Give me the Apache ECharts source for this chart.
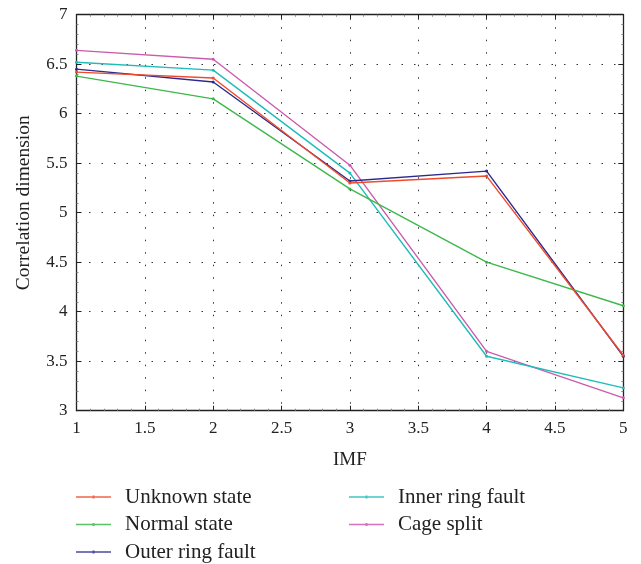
<!DOCTYPE html>
<html><head><meta charset="utf-8">
<script src="https://cdn.jsdelivr.net/npm/echarts@6/dist/echarts.min.js"></script>
<style>html,body{margin:0;padding:0;background:#fff}#c{width:641px;height:564px}</style>
</head><body><div id="c"></div>
<script>
var imf = [1, 2, 3, 4, 5];
var seriesNames = ['Unknown state', 'Normal state', 'Outer ring fault', 'Inner ring fault', 'Cage split'];
var unknownState = [6.42, 6.36, 5.30, 5.37, 3.56];
var normalState = [6.38, 6.15, 5.24, 4.50, 4.06];
var outerRingFault = [6.45, 6.32, 5.32, 5.42, 3.55];
var innerRingFault = [6.52, 6.44, 5.40, 3.55, 3.23];
var cageSplit = [6.64, 6.55, 5.48, 3.60, 3.13];
var colors = ['#f04a2c', '#3db84c', '#2d2a8e', '#1dbdb9', '#cc5bac'];

var allData = [unknownState, normalState, outerRingFault, innerRingFault, cageSplit];
var font = 'Liberation Serif';
var series = allData.map(function (vals, i) {
  return {
    name: seriesNames[i], type: 'line',
    data: imf.map(function (x, j) { return [x, vals[j]]; }),
    symbol: 'circle', symbolSize: 3, showSymbol: true,
    lineStyle: { width: 1.4, color: colors[i] },
    itemStyle: { color: colors[i] },
    z: 5 - i
  };
});

var gridLine = { show: true, lineStyle: { type: [1.5, 11], color: '#333', width: 1 } };
function axisBase(pos, isX, show) {
  return {
    type: 'value', position: pos,
    min: isX ? 1 : 3, max: isX ? 5 : 7, interval: 0.5,
    axisLine: { show: true, onZero: false, lineStyle: { color: '#222', width: 1.3 } },
    axisTick: { show: true, inside: true, length: 5, lineStyle: { color: '#222' } },
    minorTick: { show: true, splitNumber: 5, length: 2, lineStyle: { color: '#888' } },
    axisLabel: { show: show, color: '#222', fontFamily: font, fontSize: 17, margin: isX ? 9 : 9 },
    splitLine: show ? gridLine : { show: false }
  };
}
var xBottom = axisBase('bottom', true, true);
xBottom.name = 'IMF'; xBottom.nameLocation = 'middle'; xBottom.nameGap = 40;
xBottom.nameTextStyle = { fontFamily: font, fontSize: 19, color: '#222' };
var yLeft = axisBase('left', false, true);
yLeft.name = 'Correlation dimension'; yLeft.nameLocation = 'middle'; yLeft.nameGap = 43;
yLeft.nameTextStyle = { fontFamily: font, fontSize: 19.5, color: '#222', padding: [0, 0, 0, 20] };

var legendIcon = 'path://M0,2.3L35,2.3L35,3.7L0,3.7Z M16.5,1.5L18.5,1.5L18.5,4.5L16.5,4.5Z';
var legendCommon = {
  orient: 'vertical', itemWidth: 35, itemHeight: 6, itemGap: 6.5, height: 120,
  icon: legendIcon, padding: 0,
  itemStyle: { opacity: 0.85 },
  textStyle: { fontFamily: font, fontSize: 21, lineHeight: 21, color: '#222', padding: [0, 0, 0, 9] },
  top: 486.5
};
var option = {
  animation: false,
  backgroundColor: '#fff',
  color: colors,
  grid: { left: 76.5, right: 17.7, top: 14.7, bottom: 153.3, containLabel: false },
  xAxis: [xBottom, axisBase('top', true, false)],
  yAxis: [yLeft, axisBase('right', false, false)],
  legend: [
    Object.assign({}, legendCommon, { left: 76, data: seriesNames.slice(0, 3) }),
    Object.assign({}, legendCommon, { left: 349, data: seriesNames.slice(3) })
  ],
  series: series
};
var chart = echarts.init(document.getElementById('c'), null, { renderer: 'canvas' });
chart.setOption(option);
</script></body></html>
